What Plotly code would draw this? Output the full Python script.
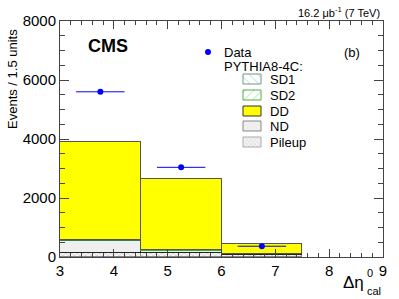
import plotly.graph_objects as go

# Bin centres (width 1.5 units)
bin_centers = [3.75, 5.25, 6.75]
bin_width = 1.5

# Stacked MC components (events / 1.5 units)
pileup = [150, 130, 70]
nd = [400, 80, 20]
sd1 = [20, 10, 5]
sd2 = [20, 10, 5]
dd = [3300, 2405, 350]

# Data
data_x = [3.75, 5.25, 6.75]
data_y = [5600, 3040, 365]
data_xerr = [0.45, 0.45, 0.45]

# Legend labels
legend_labels = ["SD1", "SD2", "DD", "ND", "Pileup"]

FONT = "Liberation Sans"

# pixel helpers for decorations (plot area: x 60..383, y 21..257)
PL, PR, PT, PB = 60, 383, 21, 257
def px(x):
    return (x - PL) / (PR - PL)
def py(y):
    return (PB - y) / (PB - PT)

fig = go.Figure()

styles = {
    "Pileup": dict(color="#f6f6f6", line=dict(color="#888888", width=1),
                   pattern=dict(shape="x", fgcolor="#a0a0a0", size=4, solidity=0.3)),
    "ND": dict(color="#efefef", line=dict(color="#222222", width=1.2)),
    "SD1": dict(color="white", line=dict(color="#3a7a5a", width=1),
                pattern=dict(shape="\\", fgcolor="#5a9a80", size=8, solidity=0.15)),
    "SD2": dict(color="white", line=dict(color="#44aa44", width=1),
                pattern=dict(shape="/", fgcolor="#44cc44", size=8, solidity=0.15)),
    "DD": dict(color="#ffff00", line=dict(color="#555555", width=1.2)),
}

for name, vals in [("Pileup", pileup), ("ND", nd), ("SD1", sd1), ("SD2", sd2), ("DD", dd)]:
    fig.add_trace(go.Bar(x=bin_centers, y=vals, width=bin_width, name=name,
                         marker=styles[name], showlegend=False))

fig.add_trace(go.Scatter(x=data_x, y=data_y, mode="markers", name="Data",
                         marker=dict(color="#0000ff", size=6),
                         error_x=dict(type="data", array=data_xerr, color="#0000ff",
                                      thickness=1, width=0),
                         showlegend=False))

# ---- manual legend (overlay axes in pixel units) ----
sw_x0, sw_x1 = 243, 261
sw_rows = [(74, 84), (90, 100), (106, 116), (121, 131), (137, 147)]
leg_styles = {
    "SD1": dict(fill="white", line="#6a9a88", pat=dict(shape="\\", fgcolor="#6aa890", bgcolor="white", size=6, solidity=0.15)),
    "SD2": dict(fill="white", line="#55aa55", pat=dict(shape="/", fgcolor="#44cc44", bgcolor="white", size=6, solidity=0.15)),
    "DD": dict(fill="#ffff00", line="#333333", pat=None),
    "ND": dict(fill="#efefef", line="#888888", pat=None),
    "Pileup": dict(fill="#f4f4f4", line="#aaaaaa", pat=dict(shape="x", fgcolor="#b0b0b0", bgcolor="#f4f4f4", size=3, solidity=0.3)),
}
for lab, (y0, y1) in zip(legend_labels, sw_rows):
    st = leg_styles[lab]
    kw = dict(fillpattern=st["pat"]) if st["pat"] else {}
    fig.add_trace(go.Scatter(x=[sw_x0, sw_x1, sw_x1, sw_x0, sw_x0], y=[y0, y0, y1, y1, y0],
                             xaxis="x2", yaxis="y2", mode="lines", fill="toself",
                             fillcolor=st["fill"], line=dict(color=st["line"], width=1),
                             showlegend=False, hoverinfo="skip", **kw))
    fig.add_annotation(xref="paper", yref="paper", x=px(268), y=py((y0 + y1) / 2 + 0.5),
                       xanchor="left", yanchor="middle", text=lab, showarrow=False,
                       font=dict(family=FONT, size=13))

fig.add_trace(go.Scatter(x=[208], y=[52], xaxis="x2", yaxis="y2", mode="markers",
                         marker=dict(color="#0000ff", size=6), showlegend=False, hoverinfo="skip"))
fig.add_annotation(xref="paper", yref="paper", x=px(222), y=py(52), xanchor="left", yanchor="middle",
                   text="Data", showarrow=False, font=dict(family=FONT, size=13))
fig.add_annotation(xref="paper", yref="paper", x=px(222), y=py(66), xanchor="left", yanchor="middle",
                   text="PYTHIA8-4C:", showarrow=False, font=dict(family=FONT, size=13))

axis_common = dict(showline=True, linecolor="#444444", linewidth=1, mirror="allticks",
                   ticks="inside", tickcolor="#444444", tickwidth=1,
                   showgrid=False, zeroline=False, automargin=False,
                   tickfont=dict(family=FONT, size=15, color="black"))

fig.update_layout(
    width=399, height=299,
    margin=dict(l=PL, r=399 - PR, t=PT, b=299 - PB),
    paper_bgcolor="white", plot_bgcolor="white",
    barmode="stack", bargap=0,
    font=dict(family=FONT, color="black"),
    showlegend=False,
    xaxis=dict(range=[3, 9], dtick=1, tick0=3, ticklen=8,
               minor=dict(dtick=0.2, ticks="inside", ticklen=4, tickcolor="#444444", showgrid=False),
               **axis_common),
    yaxis=dict(range=[0, 8000], dtick=2000, tick0=0, ticklen=9,
               minor=dict(dtick=500, ticks="inside", ticklen=5, tickcolor="#444444", showgrid=False),
               **axis_common),
    xaxis2=dict(overlaying="x", range=[PL, PR], visible=False, fixedrange=True),
    yaxis2=dict(overlaying="y", range=[PB, PT], visible=False, fixedrange=True),
)

fig.add_annotation(xref="paper", yref="paper", x=px(12.5), y=py(79.5), xanchor="center", yanchor="middle",
                   text="Events / 1.5 units", textangle=-90, showarrow=False,
                   font=dict(family=FONT, size=13))
fig.add_annotation(xref="paper", yref="paper", x=px(86), y=py(46), xanchor="left", yanchor="middle",
                   text="<b>CMS</b>", showarrow=False, font=dict(family=FONT, size=18))
fig.add_annotation(xref="paper", yref="paper", x=px(362), y=py(52), xanchor="right", yanchor="middle",
                   text="(b)", showarrow=False, font=dict(family=FONT, size=13))
fig.add_annotation(xref="paper", yref="paper", x=px(382), y=py(12), xanchor="right", yanchor="middle",
                   text="16.2 \u03bcb<sup>-1</sup> (7 TeV)", showarrow=False,
                   font=dict(family=FONT, size=11))
# x-axis title: Δη^0_cal
fig.add_annotation(xref="paper", yref="paper", x=px(366), y=py(282), xanchor="right", yanchor="middle",
                   text="\u0394\u03b7", showarrow=False, font=dict(family=FONT, size=17))
fig.add_annotation(xref="paper", yref="paper", x=px(365), y=py(273), xanchor="left", yanchor="middle",
                   text="0", showarrow=False, font=dict(family=FONT, size=11))
fig.add_annotation(xref="paper", yref="paper", x=px(365), y=py(291), xanchor="left", yanchor="middle",
                   text="cal", showarrow=False, font=dict(family=FONT, size=11))

fig.write_html("out.html", config={"displayModeBar": False},
               post_script="document.body.style.margin='0';document.body.style.overflow='hidden';")
